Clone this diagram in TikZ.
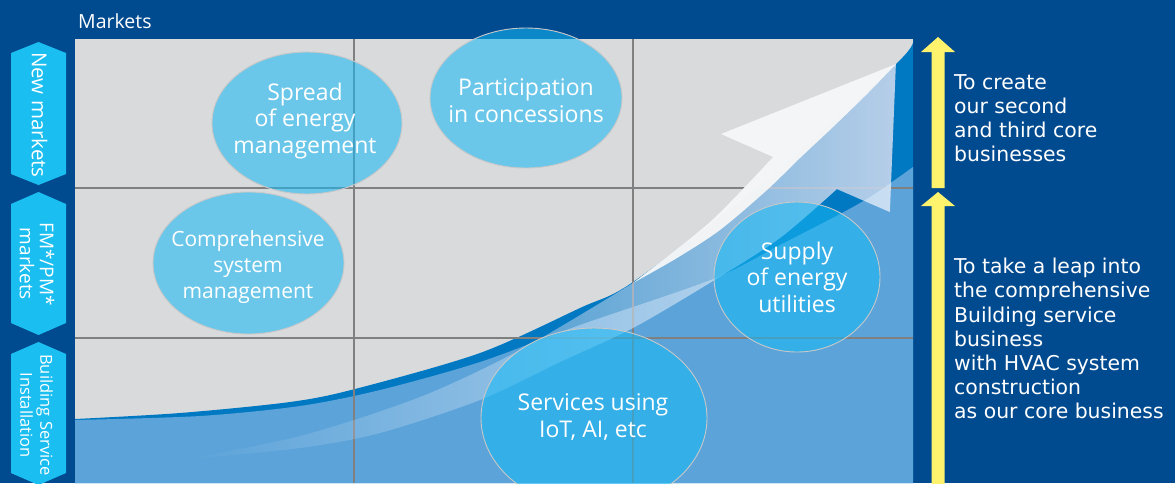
\documentclass[tikz,border=0pt]{standalone}
\usepackage{fontspec}
\setmainfont{Open Sans}
\newfontfamily\dejavu{DejaVu Sans}
\usetikzlibrary{shapes.geometric,fadings}
\definecolor{bgblue}{RGB}{0,74,143}
\definecolor{plotgray}{RGB}{217,218,220}
\definecolor{bandblue}{RGB}{0,121,194}
\definecolor{areablue}{RGB}{91,163,217}
\definecolor{hexcyan}{RGB}{27,190,240}
\definecolor{ellcyan}{RGB}{22,185,245}
\definecolor{ellborder}{RGB}{200,200,200}
\definecolor{palearrow}{RGB}{198,214,236}
\definecolor{palelight}{RGB}{212,228,245}
\definecolor{headwhite}{RGB}{247,247,247}
\definecolor{gridgray}{RGB}{128,128,128}
\definecolor{arrowyellow}{RGB}{255,243,110}
\tikzfading[name=arrowfade, left color=transparent!100, middle color=transparent!0, right color=transparent!0]
\newcommand\curveD{plot[smooth,tension=0.5] coordinates {(75,419) (180,413) (290,402) (355,389) (480,353) (580,308) (633,282) (760,185) (896,64) (913,40)}}
\newcommand\curveB{plot[smooth,tension=0.5] coordinates {(75,420) (200,416) (300,406) (380,390) (480,362) (580,325) (713,279) (780,245) (860,203) (913,167)}}
\newcommand\arrowP{plot[smooth,tension=0.5] coordinates {(180,460) (300,436) (420,397) (520,350) (633,283)} -- plot[smooth,tension=0.5] coordinates {(633,283) (710,222) (773,157)} -- (721,134) -- (896,64) -- (890,212) -- (837,189) -- plot[smooth,tension=0.5] coordinates {(837,189) (780,238) (713,281) (633,328) (560,362) (480,400) (380,433) (300,448) (180,460)} -- cycle}
\begin{document}
\begin{tikzpicture}[x=1pt,y=-1pt,
  ell/.style={ellipse, draw=ellborder, line width=0.9pt, fill=ellcyan, fill opacity=0.56, draw opacity=1, inner sep=0pt},
  etxt/.style={text=white, align=center, font=\fontsize{23}{26.5}\selectfont, inner sep=0pt},
  hexlbl/.style={text=white, align=center, rotate=-90, inner sep=0pt},
  sidetxt/.style={text=white, align=left, anchor=north west, inner sep=0pt, font=\dejavu\fontsize{20.4}{24.2}\selectfont},
  hexshape/.style={fill=hexcyan},
  yarrow/.style={fill=arrowyellow},
  gridline/.style={draw=gridgray, line width=1.1pt}]
\useasboundingbox (0,0) rectangle (1175,483);
% background
\fill[bgblue] (0,0) rectangle (1175,483);
\fill[plotgray] (75,39) rectangle (913,483);
% dark band and light blue area
\fill[bandblue] \curveD -- (913,483) -- (75,483) -- cycle;
\fill[areablue] \curveB -- (913,483) -- (75,483) -- cycle;
% grid
\draw[gridline] (354,39) -- (354,483);
\draw[gridline] (633,39) -- (633,483);
\draw[gridline] (75,188) -- (913,188);
\draw[gridline] (75,338) -- (913,338);
% pale arrow
\begin{scope}
  \clip \curveB -- (913,0) -- (75,0) -- cycle;
  \fill[palearrow, fill opacity=0.92, path fading=arrowfade] \arrowP;
\end{scope}
\begin{scope}
  \clip \curveB -- (913,483) -- (75,483) -- cycle;
  \fill[palelight, fill opacity=0.92, path fading=arrowfade] \arrowP;
\end{scope}
% white half of the arrow head
\fill[headwhite, fill opacity=0.95] plot[smooth,tension=0.5] coordinates {(633,283) (710,222) (773,157)} -- (721,134) -- (896,64) -- plot[smooth,tension=0.5] coordinates {(896,64) (867,94) (833,127) (800,158) (767,190) (720,230) (677,258) (633,283)} -- cycle;
% ellipses
\node[ell, minimum width=190, minimum height=142] (eSpread) at (307,123) {};
\node[ell, minimum width=192, minimum height=140] (ePart) at (526,98) {};
\node[ell, minimum width=191, minimum height=142] (eComp) at (248.5,263) {};
\node[ell, minimum width=166, minimum height=150] (eSupply) at (797,277) {};
\node[ell, minimum width=226, minimum height=180] (eServ) at (594,418) {};
\node[etxt] (tSpread) at (305,121) {Spread\\of energy\\management};
\node[etxt] (tPart) at (526,100.5) {Participation\\in concessions};
\node[etxt, font=\fontsize{21}{26}\selectfont] (tComp) at (248,267) {Comprehensive\\system\\management};
\node[etxt] (tSupply) at (797,277) {Supply\\of energy\\utilities};
\node[etxt] (tServ) at (593,417) {Services using\\IoT, AI, etc};
% markets label
\node[text=white, anchor=base west, inner sep=0pt, font=\fontsize{19.5}{22}\selectfont] (markets) at (78,28) {Markets};
% side hexagons
\fill[hexshape] (38.5,42) -- (66,53) -- (66,174) -- (38.5,185) -- (11,174) -- (11,53) -- cycle;
\fill[hexshape] (38.5,192) -- (66,204) -- (66,323) -- (38.5,335) -- (11,323) -- (11,204) -- cycle;
\fill[hexshape] (38.5,342) -- (66,354) -- (66,473) -- (38.5,485) -- (11,473) -- (11,354) -- cycle;
\node[hexlbl, font=\fontsize{20.5}{22}\selectfont] (hNew) at (39.5,115) {New markets};
\node[hexlbl, font=\fontsize{19}{20}\selectfont] (hFM) at (37,264) {FM*/PM*\\markets};
\node[hexlbl, font=\fontsize{16.5}{20}\selectfont] (hBS) at (36.5,415) {Building Service\\Installation};
% yellow arrows
\fill[yarrow] (938,37) -- (955,52) -- (944.5,52) -- (944.5,188) -- (931.5,188) -- (931.5,52) -- (921,52) -- cycle;
\fill[yarrow] (938,192) -- (955,206) -- (944.5,206) -- (944.5,490) -- (931.5,490) -- (931.5,206) -- (921,206) -- cycle;
% right texts
\node[sidetxt] (rTop) at (954,74) {To create\\our second\\and third core\\businesses};
\node[sidetxt] (rBot) at (954,258) {To take a leap into\\the comprehensive\\Building service\\business\\with HVAC system\\construction\\as our core business};
\end{tikzpicture}
\end{document}
